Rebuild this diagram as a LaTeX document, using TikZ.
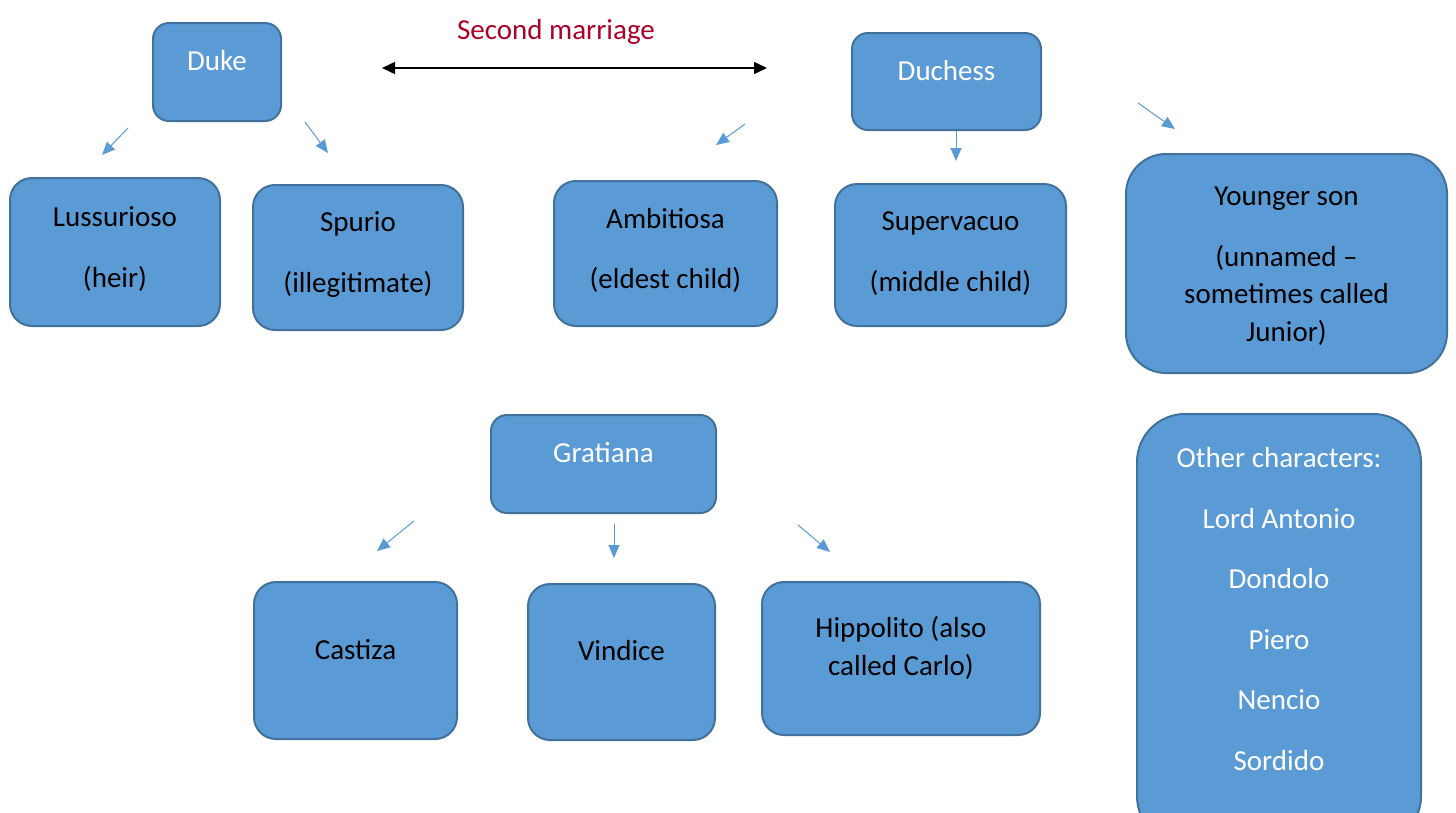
\documentclass[tikz,border=0pt]{standalone}
\usepackage{fontspec}
\setmainfont{Carlito}
\usetikzlibrary{arrows.meta}
\definecolor{boxfill}{HTML}{5B9BD5}
\definecolor{boxline}{HTML}{41719C}
\definecolor{marr}{RGB}{172,0,40}
\tikzset{
  box/.style={draw=boxline, fill=boxfill, line width=2pt, rounded corners=#1, inner sep=0pt},
  box/.default=16pt,
  txt/.style={align=center, font=\fontsize{29}{37.5}\selectfont, text=black, inner sep=0pt},
  wtxt/.style={txt, text=white},
  kid/.style={draw=boxfill, line width=1pt, -{Triangle[length=13pt,width=11pt]}},
  marriage/.style={draw=black, line width=1.4pt, {Triangle[length=13pt,width=12pt]}-{Triangle[length=13pt,width=12pt]}}
}
\begin{document}
\begin{tikzpicture}[x=1pt,y=-1pt]
\clip (0,0) rectangle (1456,812);
\fill[white] (0,0) rectangle (1456,812);
% boxes
\node[box, minimum width=128pt, minimum height=98pt] (duke) at (217,72) {};
\node[box, minimum width=189pt, minimum height=97pt] (duchess) at (946.5,81.5) {};
\node[box=22pt, minimum width=210pt, minimum height=148pt] (luss) at (115,252) {};
\node[box=22pt, minimum width=210pt, minimum height=145pt] (spur) at (358,257.5) {};
\node[box=22pt, minimum width=223pt, minimum height=145pt] (ambi) at (665.5,253.5) {};
\node[box=22pt, minimum width=231pt, minimum height=142pt] (supe) at (950.5,255) {};
\node[box=40pt, minimum width=321pt, minimum height=219pt] (young) at (1286.5,263.5) {};
\node[box, minimum width=225pt, minimum height=98pt] (grat) at (603.5,464) {};
\node[box=22pt, minimum width=203pt, minimum height=157pt] (cast) at (355.5,660.5) {};
\node[box=22pt, minimum width=187pt, minimum height=156pt] (vind) at (621.5,662) {};
\node[box=22pt, minimum width=278pt, minimum height=153pt] (hipp) at (901,658.5) {};
\node[box=48pt, minimum width=284pt, minimum height=430pt] (other) at (1279,629) {};
% texts
\node[wtxt] (dukeT) at (217,61) {Duke};
\node[wtxt] (duchT) at (946.5,71) {Duchess};
\node[wtxt] (gratT) at (603.5,453) {Gratiana};
\node[txt] (lussT) at (115,249) {Lussurioso\\[23pt](heir)};
\node[txt] (spurT) at (358,254.5) {Spurio\\[23pt](illegitimate)};
\node[txt] (ambiT) at (665.5,250.5) {Ambitiosa\\[23pt](eldest child)};
\node[txt] (supeT) at (950.5,253.5) {Supervacuo\\[23pt](middle child)};
\node[txt] (youngT) at (1286.5,266) {Younger son\\[23pt](unnamed --\\sometimes called\\Junior)};
\node[txt] (castT) at (355.5,650) {Castiza};
\node[txt] (vindT) at (621.5,651) {Vindice};
\node[txt] (hippT) at (901,648) {Hippolito (also\\called Carlo)};
\node[wtxt] (otherT) at (1279,609) {Other characters:\\[23pt]Lord Antonio\\[23pt]Dondolo\\[23pt]Piero\\[23pt]Nencio\\[23pt]Sordido};
\node[txt, text=marr] (marrT) at (556,32) {Second marriage};
% marriage arrow
\coordinate (mL) at (382,68);
\coordinate (mR) at (767,68);
\draw[marriage] (mL) -- (mR);
% child arrows
\coordinate (a1s) at (128,128); \coordinate (a1e) at (102,155);
\coordinate (a2s) at (305,122); \coordinate (a2e) at (328,153);
\coordinate (a3s) at (745,124); \coordinate (a3e) at (716,145);
\coordinate (a4s) at (956,131); \coordinate (a4e) at (956,161);
\coordinate (a5s) at (1138,103); \coordinate (a5e) at (1175,129);
\coordinate (a6s) at (414,521); \coordinate (a6e) at (377,551);
\coordinate (a7s) at (614,524); \coordinate (a7e) at (614,558);
\coordinate (a8s) at (798,525); \coordinate (a8e) at (830,552);
\foreach \i in {1,...,8} \draw[kid] (a\i s) -- (a\i e);
\end{tikzpicture}
\end{document}
